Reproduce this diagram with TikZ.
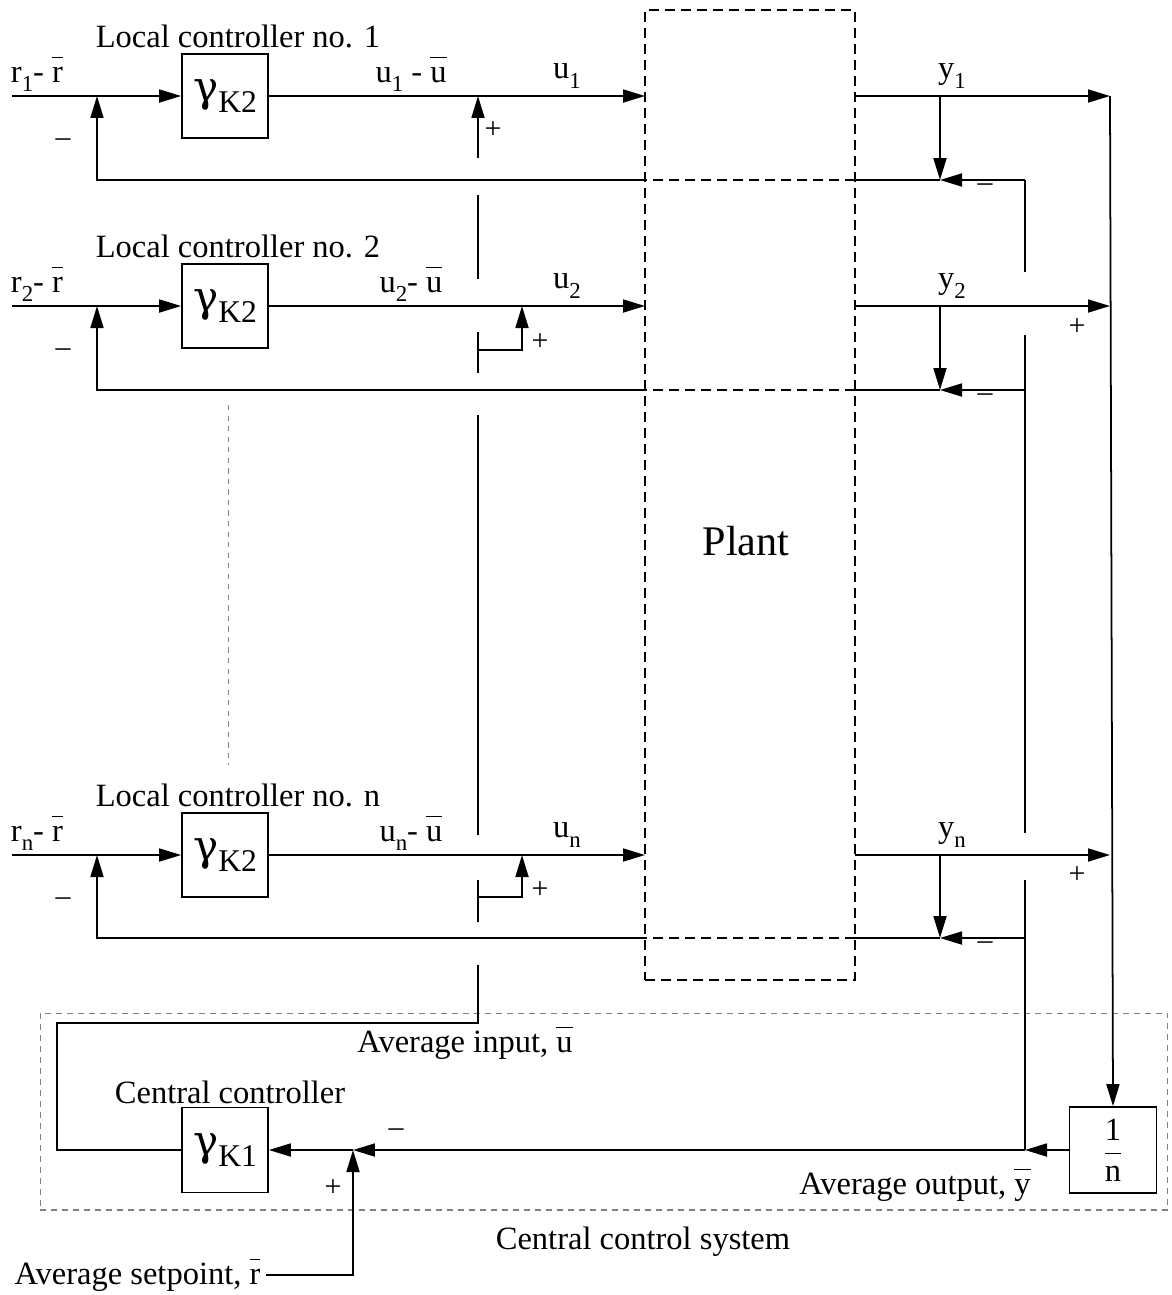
\documentclass[tikz,border=0pt]{standalone}
\usepackage{fontspec}
\setmainfont{Liberation Serif}
\newfontfamily\grkfont{DejaVu Serif}
\usetikzlibrary{arrows.meta,positioning}
\newcommand{\avg}[1]{$\overline{\mbox{\vphantom{l}#1}}$}
\newcommand{\lowsub}[1]{\raisebox{-0.3em}{\fontsize{13}{15}\selectfont #1}}
\newcommand{\gain}[1]{{\grkfont\fontsize{24}{26}\selectfont γ}\raisebox{-0.35em}{\fontsize{18}{20}\selectfont #1}}
\tikzset{
    block/.style={
        rectangle,
        draw=black,
        line width=1pt,
        minimum width=1.72cm,
        minimum height=1.68cm,
        inner sep=0pt,
        font=\fontsize{18.5}{22}\selectfont
    },
    sig/.style={line width=1pt},
    sigarrow/.style={
        sig,
        -{Triangle[length=4.4mm,width=2.6mm]}
    },
    plantdash/.style={dash pattern=on 2mm off 1.2mm},
    txt/.style={font=\fontsize{18.5}{22}\selectfont, inner sep=0pt},
    signtxt/.style={font=\fontsize{17}{19}\selectfont, inner sep=0pt},
    minustxt/.style={font=\fontsize{17}{19}\selectfont, inner sep=0pt}
}

\begin{document}
\begin{tikzpicture}[x=0.02cm, y=-0.02cm]
\useasboundingbox (0,0) rectangle (1172,1295);

% Central control system frame
\node[draw=gray, line width=0.6pt, dash pattern=on 1.2mm off 1mm, minimum width=22.56cm, minimum height=3.94cm] (ccs) at (604,1111.5) {};
\node[txt] (ccslbl) at (643,1242) {Central control system};

% Plant
\node[draw, plantdash, line width=1.1pt, minimum width=4.2cm, minimum height=19.4cm] (plant) at (750,495) {};
\node[font=\fontsize{24}{28}\selectfont] (plantlbl) at (746,541) {Plant};

% dots between the local loops
\draw[gray, dashed, thin] (228,405) -- (228,765);

% Local controllers
\foreach \i/\m/\f/\n in {1/96/180/1, 2/306/390/2, 3/855/938/n} {
    \node[block] (k\i) at (225,\m) {\gain{K2}};
    \node[txt] (lc\i) at (238,\m-60) {Local controller no. \n};
    \node[txt] (r\i) at (37,\m-22) {r\lowsub{\n}- \avg{r}};
    \node[txt] (u\i) at (567,\m-20) {u\lowsub{\n}};
    \node[txt] (y\i) at (952,\m-20) {y\lowsub{\n}};
    \node[minustxt] (ms\i) at (63,\m+47) {–};
    \node[minustxt] (mf\i) at (985,\f+8) {–};

    \coordinate (in\i) at (12,\m);
    \coordinate (s\i) at (97,\m);
    \coordinate (p\i) at (645,\m);
    \coordinate (o\i) at (855,\m);
    \coordinate (t\i) at (940,\m);
    \coordinate (e\i) at (1110,\m);
    \coordinate (f\i) at (940,\f);
    \coordinate (a\i) at (1025,\f);
    \coordinate (q\i) at (855,\f);
    \coordinate (pl\i) at (645,\f);

    \draw[sigarrow] (in\i) -- (k\i.west);
    \draw[sigarrow] (k\i.east) -- (p\i);
    \draw[sigarrow] (o\i) -- (e\i);
    \draw[sigarrow] (t\i) -- (f\i);
    \draw[sigarrow] (a\i) -- (f\i);
    \draw[sig] (f\i) -- (q\i);
    \draw[sig, plantdash] (q\i) -- (pl\i);
    \draw[sigarrow] (pl\i) -| (s\i);
}
\node[txt] (ud1) at (411,74) {u\lowsub{1} - \avg{u}};
\node[txt] (ud2) at (411,284) {u\lowsub{2}- \avg{u}};
\node[txt] (ud3) at (411,833) {u\lowsub{n}- \avg{u}};

% average input bus
\coordinate (j1) at (478,96);
\coordinate (j2) at (522,306);
\coordinate (j3) at (522,855);
\coordinate (b1) at (478,158);
\coordinate (b2) at (478,350);
\coordinate (b3) at (478,897);
\draw[sigarrow] (b1) -- (j1);
\draw[sigarrow] (b2) -| (j2);
\draw[sigarrow] (b3) -| (j3);
\draw[sig] (478,195) -- (478,279);
\draw[sig] (478,332) -- (478,373);
\draw[sig] (478,415) -- (478,835);
\draw[sig] (478,880) -- (478,922);
\node[signtxt] (pu1) at (493,130) {+};
\node[signtxt] (pu2) at (540,342) {+};
\node[signtxt] (pu3) at (540,890) {+};

% average output bus
\draw[sig] (a1) -- (1025,272);
\draw[sig] (1025,335) -- (1025,833);
\coordinate (yb) at (1025,1150);
\draw[sig] (1025,880) -- (yb);
\node[signtxt] (py2) at (1077,327) {+};
\node[signtxt] (py3) at (1077,875) {+};

% Central controller
\node[block, minimum width=1.74cm, minimum height=1.72cm] (avgbox) at (1113,1150) {$\displaystyle\frac{\mbox{1}}{\mbox{n}}$};
\node[block, minimum height=1.7cm] (kc) at (225,1150) {\gain{K1}};
\node[txt] (cclbl) at (230,1092) {Central controller};
\coordinate (sc) at (353,1150);
\draw[sigarrow] (e1) -- (avgbox.north);
\draw[sigarrow] (avgbox.west) -- (yb);
\draw[sigarrow] (yb) -- (sc);
\draw[sigarrow] (sc) -- (kc.east);
\node[minustxt] (mc) at (396,1133) {–};
\node[signtxt] (pc) at (333,1188) {+};
\node[txt, inner sep=3pt, anchor=west] (sp) at (9,1275) {Average setpoint, \avg{r}};
\draw[sigarrow] (sp.east) -| (sc);
\node[txt] (avin) at (465,1043) {Average input, \avg{u}};
\node[txt] (avout) at (915,1185) {Average output, \avg{y}};

\coordinate (cl) at (57,1150);
\coordinate (ct) at (57,1023);
\coordinate (ub) at (478,1023);
\draw[sig] (kc.west) -- (cl) -- (ct) -- (ub) -- (478,965);
\end{tikzpicture}
\end{document}
